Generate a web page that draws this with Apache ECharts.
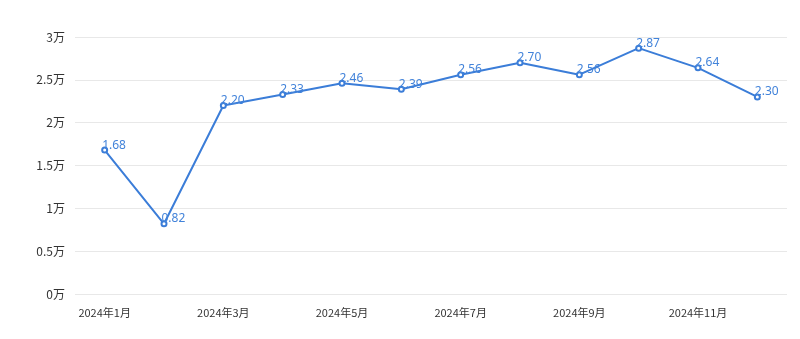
<!DOCTYPE html>
<html>
<head>
<meta charset="utf-8">
<script src="https://cdn.jsdelivr.net/npm/echarts@6/dist/echarts.min.js"></script>
<style>html,body{margin:0;padding:0;background:#fff;}#c{width:800px;height:339px;}</style>
</head>
<body>
<div id="c"></div>
<script>
var categories = ['2024年1月','2024年2月','2024年3月','2024年4月','2024年5月','2024年6月','2024年7月','2024年8月','2024年9月','2024年10月','2024年11月','2024年12月'];
var values = [16800, 8200, 22000, 23300, 24600, 23900, 25600, 27000, 25600, 28700, 26400, 23000];
var lineColor = '#3b7dd8';
var chart = echarts.init(document.getElementById('c'));
chart.setOption({
  animation: false,
  grid: {left: 75, right: 13, top: 37, bottom: 45},
  xAxis: {
    type: 'category',
    data: categories,
    boundaryGap: true,
    axisLine: {show: false},
    axisTick: {show: false},
    axisLabel: {interval: 1, color: '#333', fontSize: 11, margin: 13, fontFamily: 'Noto Sans CJK SC'}
  },
  yAxis: {
    type: 'value',
    min: 0, max: 30000, interval: 5000,
    axisLine: {show: false},
    axisTick: {show: false},
    splitLine: {lineStyle: {color: '#e8e8e8'}},
    axisLabel: {
      color: '#333', fontSize: 12, margin: 10, fontFamily: 'Noto Sans CJK SC',
      formatter: function (v) { return (v / 10000) + '万'; }
    }
  },
  series: [{
    type: 'line',
    data: values,
    symbol: 'emptyCircle',
    symbolSize: 5,
    lineStyle: {color: lineColor, width: 2},
    itemStyle: {color: lineColor, borderWidth: 1},
    label: {
      show: true,
      position: 'right',
      distance: 0,
      offset: [-6, -5],
      color: '#4283da',
      fontSize: 12,
      fontFamily: 'Noto Sans',
      formatter: function (p) { return (p.value / 10000).toFixed(2); }
    }
  }]
});
</script>
</body>
</html>
